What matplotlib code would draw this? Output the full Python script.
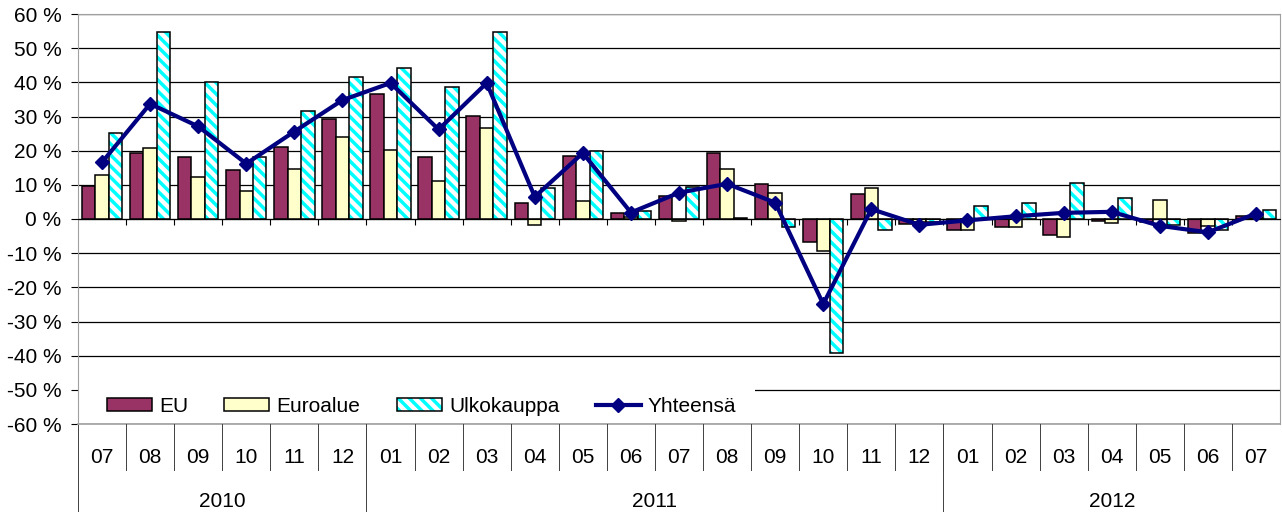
import matplotlib
matplotlib.use("Agg")
import matplotlib.pyplot as plt
from matplotlib.patches import Patch, Rectangle
from matplotlib.lines import Line2D
from matplotlib.transforms import blended_transform_factory
import numpy as np

# -----------------------------
# Data
# -----------------------------
months = ["07", "08", "09", "10", "11", "12",
          "01", "02", "03", "04", "05", "06", "07", "08", "09", "10", "11", "12",
          "01", "02", "03", "04", "05", "06", "07"]
years = ["2010", "2011", "2012"]
year_counts = [6, 12, 7]

eu = [9.8, 19.2, 18.1, 14.2, 21.2, 29.2,
      36.6, 18.1, 30.2, 4.8, 18.3, 1.9, 6.7, 19.3, 10.3, -6.8, 7.2, -1.5,
      -3.1, -2.2, -4.7, -0.7, -1.0, -4.1, 0.8]
euroalue = [12.8, 20.7, 12.2, 8.3, 14.7, 24.1,
            20.1, 11.1, 26.6, -1.8, 5.2, 0.5, -0.7, 14.6, 7.7, -9.3, 9.0, -1.0,
            -3.1, -2.2, -5.4, -1.2, 5.7, -2.0, 0.3]
ulkokauppa = [25.1, 54.6, 40.2, 18.2, 31.7, 41.7,
              44.2, 38.6, 54.6, 9.2, 20.0, 2.2, 9.3, 0.3, -2.2, -39.1, -3.1, -0.8,
              3.9, 4.7, 10.6, 6.2, -1.7, -3.1, 2.7]
yhteensa = [16.6, 33.7, 27.1, 16.2, 25.6, 34.8,
            39.8, 26.2, 39.8, 6.5, 19.3, 1.9, 7.7, 10.3, 4.8, -24.9, 2.9, -1.7,
            -0.4, 0.8, 1.8, 2.1, -2.0, -3.9, 1.6]

# -----------------------------
# Style
# -----------------------------
plt.rcParams["font.family"] = ["Liberation Sans", "DejaVu Sans"]
plt.rcParams["font.size"] = 15
plt.rcParams["hatch.linewidth"] = 2.5

c_eu = "#993366"
c_euro = "#FFFFCC"
c_ulko = "#00FFFF"
c_line = "#000080"
grey = "#A0A0A0"
hatch = "\\\\\\"

fig = plt.figure(figsize=(12.82, 5.12), dpi=100)
ax = fig.add_axes([78 / 1282, 1 - 424 / 512, 1202 / 1282, 410 / 512])

x = np.arange(len(months))
w = 0.28

ax.bar(x - w, eu, w, color=c_eu, edgecolor="black", linewidth=1.1, zorder=3)
ax.bar(x, euroalue, w, color=c_euro, edgecolor="black", linewidth=1.1, zorder=3)
ax.bar(x + w, ulkokauppa, w, color="white", edgecolor=c_ulko, hatch=hatch,
       linewidth=0, zorder=3)
ax.bar(x + w, ulkokauppa, w, color="none", edgecolor="black", linewidth=1.1, zorder=3)
ax.plot(x, yhteensa, color=c_line, linewidth=3.0, marker="D", markersize=7,
        zorder=5)

ax.set_xlim(-0.5, len(months) - 0.5)
ax.set_ylim(-60, 60)
ax.set_yticks(np.arange(-60, 61, 10))
ax.set_yticklabels([f"{v} %" for v in range(-60, 61, 10)])
ax.yaxis.grid(True, color="black", linewidth=0.9, zorder=0)
ax.set_axisbelow(True)
ax.tick_params(axis="y", direction="out", length=5, color="black", pad=7)

# category axis crosses at zero
ax.spines["bottom"].set_position(("data", 0))
ax.spines["bottom"].set_color("black")
ax.spines["bottom"].set_zorder(4)
for s in ["left", "right", "top"]:
    ax.spines[s].set_color(grey)
ax.axhline(-60, color=grey, linewidth=1.2, zorder=1, clip_on=False)
ax.set_xticks(np.arange(0.5, len(months) - 1, 1.0))
ax.set_xticklabels([])
ax.tick_params(axis="x", direction="out", length=4, color="black")

# two-tier category labels
tr = blended_transform_factory(ax.transData, ax.transAxes)
for i, m in enumerate(months):
    ax.text(i, -0.082, m, transform=tr, ha="center", va="center")
    if i > 0:
        ax.plot([i - 0.5, i - 0.5], [0, -0.112], transform=tr, color="#404040",
                linewidth=0.7, clip_on=False)
start = 0
for yr, n in zip(years, year_counts):
    ax.text(start + (n - 1) / 2, -0.19, yr, transform=tr, ha="center", va="center")
    ax.plot([start - 0.5, start - 0.5], [0, -0.3], transform=tr, color="#404040",
            linewidth=0.7, clip_on=False)
    start += n

# legend (white box hides the -50 % gridline behind it)
ax.add_patch(Rectangle((0.001, 0.004), 0.562, 0.082, transform=ax.transAxes,
                       facecolor="white", edgecolor="none", zorder=2))
handles = [
    Patch(facecolor=c_eu, edgecolor="black", linewidth=1.1),
    Patch(facecolor=c_euro, edgecolor="black", linewidth=1.1),
    (Patch(facecolor="white", edgecolor=c_ulko, hatch=hatch, linewidth=0),
     Patch(facecolor="none", edgecolor="black", linewidth=1.1)),
    Line2D([], [], color=c_line, linewidth=3.0, marker="D", markersize=7),
]
leg = ax.legend(handles, ["EU", "Euroalue", "Ulkokauppa", "Yhteensä"], ncol=4,
                loc="lower left", bbox_to_anchor=(0.017, 0.0), frameon=False,
                handlelength=2.16, handleheight=0.63, handletextpad=0.34,
                columnspacing=1.75, borderpad=0.3, borderaxespad=0.1)
leg.set_zorder(6)

fig.savefig("out.png", dpi=100)
